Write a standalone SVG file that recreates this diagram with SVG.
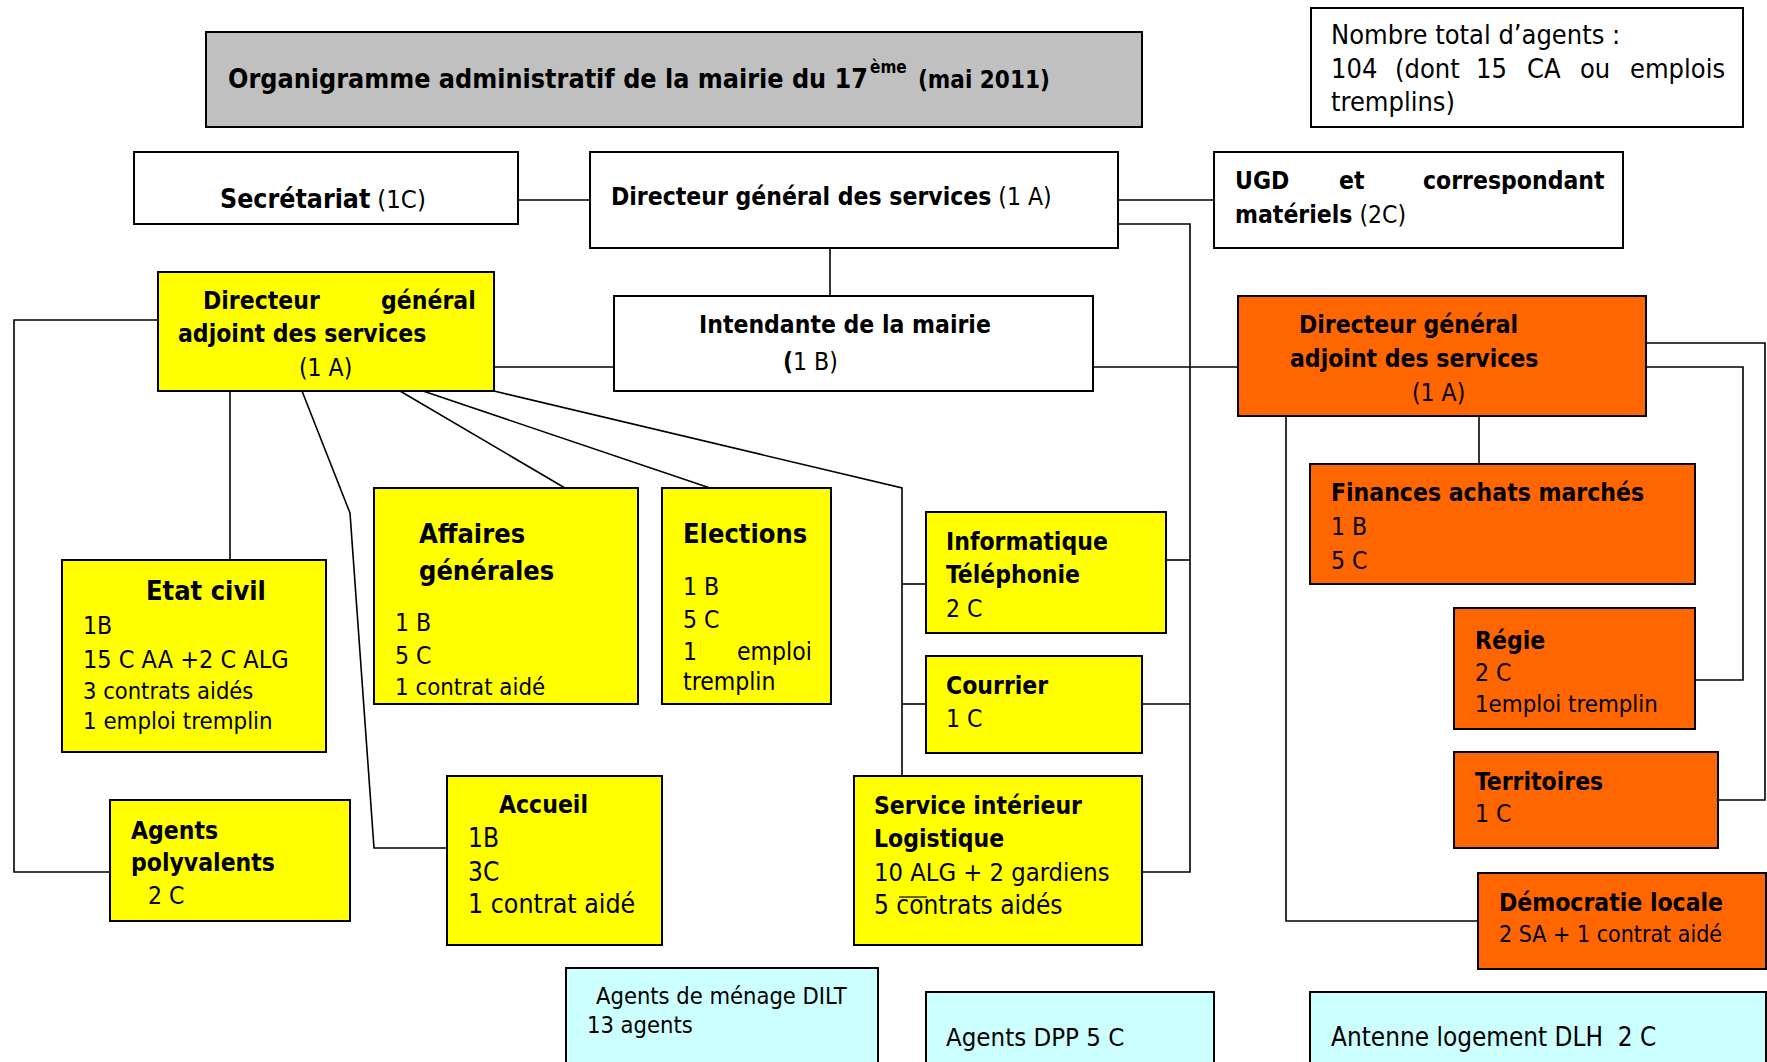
<svg xmlns="http://www.w3.org/2000/svg" width="1767" height="1062" viewBox="0 0 1767 1062">
<style>
.bx{stroke:#000;stroke-width:2}
.y{fill:#ffff00}.o{fill:#ff6600}.w{fill:#ffffff}.g{fill:#c0c0c0}.c{fill:#ccffff}
text{font-family:"DejaVu Sans Condensed","DejaVu Sans",sans-serif;font-stretch:condensed;font-size:24.5px;fill:#000}
.b{font-weight:bold}
.l{font-size:27px}
.s{font-size:23.5px}
.n{font-size:27px}
.conn{fill:none;stroke:#000;stroke-width:1.6}
</style>
<rect x="0" y="0" width="1767" height="1062" fill="#fff"/>
<g id="connectors">
<path class="conn" d="M518,200H590"/>
<path class="conn" d="M1118,200H1214"/>
<path class="conn" d="M1118,224H1190V872H1142"/>
<path class="conn" d="M1166,560H1190"/>
<path class="conn" d="M1142,704H1190"/>
<path class="conn" d="M830,248V296"/>
<path class="conn" d="M494,367H614"/>
<path class="conn" d="M1093,367H1238"/>
<path class="conn" d="M158,320H14V872H110"/>
<path class="conn" d="M230,391V560"/>
<path class="conn" d="M302,391L350,513L374,848H447"/>
<path class="conn" d="M400,391L565,488"/>
<path class="conn" d="M423,391L710,488"/>
<path class="conn" d="M494,391L902,488V776"/>
<path class="conn" d="M902,584H926"/>
<path class="conn" d="M902,704H926"/>
<path class="conn" d="M1479,416V464"/>
<path class="conn" d="M1286,416V921H1478"/>
<path class="conn" d="M1646,343H1765V800H1718"/>
<path class="conn" d="M1646,367H1743V680H1695"/>
</g>
<g id="title">
<rect class="bx g" x="206" y="32" width="936" height="95"/>
<text class="b" x="228" y="88" style="font-size:26.7px">Organigramme administratif de la mairie du 17</text>
<text class="b" x="870" y="73" style="font-size:17px">ème</text>
<text class="b" x="918" y="88" style="font-size:24px">(mai 2011)</text>
</g>
<g id="total">
<rect class="bx w" x="1311" y="8" width="432" height="119"/>
<text class="n" x="1331" y="44">Nombre total d’agents :</text>
<text class="n" x="1331" y="78">104</text>
<text class="n" x="1395" y="78">(dont</text>
<text class="n" x="1476" y="78">15</text>
<text class="n" x="1527" y="78">CA</text>
<text class="n" x="1580" y="78">ou</text>
<text class="n" x="1630" y="78">emplois</text>
<text class="n" x="1331" y="111">tremplins)</text>
</g>
<g id="secretariat">
<rect class="bx w" x="134" y="152" width="384" height="72"/>
<text x="220" y="208"><tspan class="b" style="font-size:26.5px">Secrétariat</tspan> <tspan style="font-size:25.5px">(1C)</tspan></text>
</g>
<g id="dgs">
<rect class="bx w" x="590" y="152" width="528" height="96"/>
<text x="611" y="205"><tspan class="b">Directeur général des services</tspan> (1 A)</text>
</g>
<g id="ugd">
<rect class="bx w" x="1214" y="152" width="409" height="96"/>
<text class="b" x="1235" y="189">UGD</text>
<text class="b" x="1339" y="189">et</text>
<text class="b" x="1423" y="189">correspondant</text>
<text x="1235" y="223"><tspan class="b">matériels</tspan> (2C)</text>
</g>
<g id="dga-yellow">
<rect class="bx y" x="158" y="272" width="336" height="119"/>
<text class="b" x="203" y="309">Directeur</text>
<text class="b" x="381" y="309">général</text>
<text class="b" x="178" y="342">adjoint des services</text>
<text x="299" y="376">(1 A)</text>
</g>
<g id="intendante">
<rect class="bx w" x="614" y="296" width="479" height="95"/>
<text class="b" x="699" y="333">Intendante de la mairie</text>
<text x="783" y="370"><tspan class="b">(</tspan>1 B)</text>
</g>
<g id="dga-orange">
<rect class="bx o" x="1238" y="296" width="408" height="120"/>
<text class="b" x="1299" y="333">Directeur général</text>
<text class="b" x="1290" y="367">adjoint des services</text>
<text x="1412" y="401">(1 A)</text>
</g>
<g id="etat-civil">
<rect class="bx y" x="62" y="560" width="264" height="192"/>
<text class="b l" x="146" y="600">Etat civil</text>
<text x="83" y="634">1B</text>
<text x="83" y="668" style="font-size:25px">15 C AA +2 C ALG</text>
<text class="s" x="83" y="699">3 contrats aidés</text>
<text x="83" y="729" style="font-size:23.8px">1 emploi tremplin</text>
</g>
<g id="affaires">
<rect class="bx y" x="374" y="488" width="264" height="216"/>
<text class="b l" x="419" y="543">Affaires</text>
<text class="b l" x="419" y="580">générales</text>
<text x="395" y="631">1 B</text>
<text x="395" y="664">5 C</text>
<text x="395" y="695" style="font-size:23.8px">1 contrat aidé</text>
</g>
<g id="elections">
<rect class="bx y" x="662" y="488" width="169" height="216"/>
<text class="b l" x="683" y="543">Elections</text>
<text x="683" y="595">1 B</text>
<text x="683" y="628">5 C</text>
<text x="683" y="660">1</text>
<text x="737" y="660">emploi</text>
<text x="683" y="690">tremplin</text>
</g>
<g id="agents-polyvalents">
<rect class="bx y" x="110" y="800" width="240" height="121"/>
<text class="b" x="131" y="839">Agents</text>
<text class="b" x="131" y="871">polyvalents</text>
<text x="148" y="904">2 C</text>
</g>
<g id="accueil">
<rect class="bx y" x="447" y="776" width="215" height="169"/>
<text class="b" x="499" y="813">Accueil</text>
<text x="468" y="847" style="font-size:26px">1B</text>
<text x="468" y="881" style="font-size:26px">3C</text>
<text x="468" y="913" style="font-size:26.5px">1 contrat aidé</text>
</g>
<g id="informatique">
<rect class="bx y" x="926" y="512" width="240" height="121"/>
<text class="b" x="946" y="550">Informatique</text>
<text class="b" x="946" y="583">Téléphonie</text>
<text x="946" y="617">2 C</text>
</g>
<g id="courrier">
<rect class="bx y" x="926" y="656" width="216" height="97"/>
<text class="b" x="946" y="694">Courrier</text>
<text x="946" y="727">1 C</text>
</g>
<g id="service-interieur">
<rect class="bx y" x="854" y="776" width="288" height="169"/>
<text class="b" x="874" y="814">Service intérieur</text>
<text class="b" x="874" y="847">Logistique</text>
<text x="874" y="881" style="font-size:25.3px">10 ALG + 2 gardiens</text>
<text x="874" y="914" style="font-size:26px">5 contrats aidés</text>
<path d="M899,897H927" stroke="#000" stroke-width="1.2"/>
</g>
<g id="finances">
<rect class="bx o" x="1310" y="464" width="385" height="120"/>
<text class="b" x="1331" y="501">Finances achats marchés</text>
<text x="1331" y="535">1 B</text>
<text x="1331" y="569">5 C</text>
</g>
<g id="regie">
<rect class="bx o" x="1454" y="608" width="241" height="121"/>
<text class="b" x="1475" y="649">Régie</text>
<text x="1475" y="681">2 C</text>
<text x="1475" y="712" style="font-size:23.8px">1emploi tremplin</text>
</g>
<g id="territoires">
<rect class="bx o" x="1454" y="752" width="264" height="96"/>
<text class="b" x="1475" y="790">Territoires</text>
<text x="1475" y="822">1 C</text>
</g>
<g id="democratie">
<rect class="bx o" x="1478" y="873" width="288" height="96"/>
<text class="b" x="1499" y="911">Démocratie locale</text>
<text x="1499" y="942" style="font-size:23px">2 SA + 1 contrat aidé</text>
</g>
<g id="dilt">
<rect class="bx c" x="566" y="968" width="312" height="110"/>
<text class="s" x="596" y="1004">Agents de ménage DILT</text>
<text class="s" x="587" y="1033">13 agents</text>
</g>
<g id="dpp">
<rect class="bx c" x="926" y="992" width="288" height="90"/>
<text x="946" y="1046" style="font-size:25.6px">Agents DPP 5 C</text>
</g>
<g id="antenne">
<rect class="bx c" x="1310" y="992" width="456" height="90"/>
<text x="1331" y="1046" style="font-size:25.9px" xml:space="preserve">Antenne logement DLH  2 C</text>
</g>
</svg>
